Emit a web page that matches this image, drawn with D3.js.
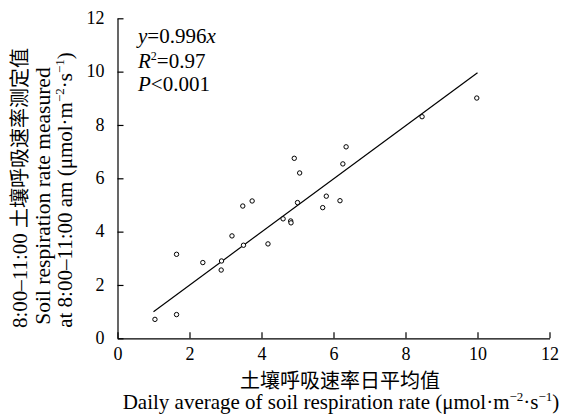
<html>

<head>
  <meta charset="utf-8">
  <title>Soil respiration scatter</title>
  <style>
    body {
      margin: 0;
      background: white;
      font-family: "Liberation Serif", "Times New Roman", serif;
    }
  </style>
</head>

<body>
  <svg id="chart"></svg>

  <script src="https://cdn.jsdelivr.net/npm/d3@7"></script>
  <script>
    // 日平均值 / 8:00-11:00 测定值
    var dailyAvg = [1.04, 1.64, 1.64, 2.37, 2.89, 2.88, 3.18, 3.50, 3.48, 3.74, 4.18, 4.60,
      4.81, 4.82, 4.91, 5.00, 5.06, 5.70, 5.80, 6.18, 6.26, 6.35, 8.46, 9.98];
    var measured = [0.71, 0.89, 3.15, 2.84, 2.90, 2.56, 3.84, 3.49, 4.96, 5.15, 3.54, 4.48,
      4.40, 4.33, 6.75, 5.09, 6.20, 4.90, 5.33, 5.16, 6.54, 7.18, 8.31, 9.01];
    var tickValues = [0, 2, 4, 6, 8, 10, 12];
    var slope = 0.996;
    var fitRange = [1.0, 10.0];

    var width = 562;
    var height = 414;
    var margin = { top: 18.3, left: 117.5, bottom: 75.7, right: 12.5 };

    var svg = d3.select("#chart")
      .attr("width", width)
      .attr("height", height);

    var xScale = d3.scaleLinear()
      .domain([0, 12])
      .range([margin.left, width - margin.right]);
    var yScale = d3.scaleLinear()
      .domain([0, 12])
      .range([height - margin.bottom, margin.top]);

    // 坐标轴，刻度朝内
    var xAxis = d3.axisBottom(xScale).tickValues(tickValues)
      .tickSizeInner(-6).tickSizeOuter(0).tickPadding(9);
    var yAxis = d3.axisLeft(yScale).tickValues(tickValues)
      .tickSizeInner(-6).tickSizeOuter(0).tickPadding(13);

    var gx = svg.append("g")
      .attr("transform", "translate(0," + yScale(0) + ")")
      .call(xAxis);
    var gy = svg.append("g")
      .attr("transform", "translate(" + xScale(0) + ",0)")
      .call(yAxis);

    [gx, gy].forEach(function (g) {
      g.selectAll("path, line").attr("stroke", "black").attr("stroke-width", 1.2);
      g.selectAll("text")
        .attr("font-family", "Liberation Serif, Times New Roman, serif")
        .attr("font-size", 18)
        .attr("fill", "black");
    });
    gy.selectAll("text").attr("dy", "0.28em");

    // 拟合线 y = 0.996x
    svg.append("line")
      .attr("x1", xScale(fitRange[0]))
      .attr("y1", yScale(fitRange[0] * slope))
      .attr("x2", xScale(fitRange[1]))
      .attr("y2", yScale(fitRange[1] * slope))
      .attr("stroke", "black")
      .attr("stroke-width", 1.2);

    // 散点
    svg.append("g")
      .selectAll("circle")
      .data(dailyAvg)
      .join("circle")
      .attr("cx", function (d) { return xScale(d); })
      .attr("cy", function (d, i) { return yScale(measured[i]); })
      .attr("r", 2.2)
      .attr("fill", "white")
      .attr("stroke", "black")
      .attr("stroke-width", 1);

    // 回归方程
    var note = svg.append("g")
      .attr("font-size", 21)
      .attr("fill", "black");
    var t1 = note.append("text").attr("x", 138).attr("y", 43);
    t1.append("tspan").attr("font-style", "italic").text("y");
    t1.append("tspan").text("=0.996");
    t1.append("tspan").attr("font-style", "italic").text("x");

    var t2 = note.append("text").attr("x", 138).attr("y", 67.5);
    t2.append("tspan").attr("font-style", "italic").text("R");
    t2.append("tspan").attr("font-size", 12).attr("dy", -8).text("2");
    t2.append("tspan").attr("dy", 8).text("=0.97");

    var t3 = note.append("text").attr("x", 138).attr("y", 91);
    t3.append("tspan").attr("font-style", "italic").text("P");
    t3.append("tspan").text("<0.001");

    // 单位 μmol·m−2·s−1
    function addUnit(text) {
      text.append("tspan").text("(μmol·m");
      text.append("tspan").attr("font-size", 13).attr("dy", -8).text("−2");
      text.append("tspan").attr("dy", 8).text("·s");
      text.append("tspan").attr("font-size", 13).attr("dy", -8).text("−1");
      text.append("tspan").attr("dy", 8).text(")");
    }

    // x 轴标题
    svg.append("text")
      .attr("x", 340).attr("y", 388)
      .attr("text-anchor", "middle")
      .attr("font-family", "Noto Sans CJK SC")
      .attr("font-size", 20)
      .text("土壤呼吸速率日平均值");
    var xt = svg.append("text")
      .attr("x", 341).attr("y", 409)
      .attr("text-anchor", "middle")
      .attr("font-size", 21);
    xt.append("tspan").text("Daily average of soil respiration rate ");
    addUnit(xt);

    // y 轴标题
    var yl1 = svg.append("text")
      .attr("transform", "translate(27,188) rotate(-90)")
      .attr("text-anchor", "middle")
      .attr("font-size", 21);
    yl1.append("tspan").text("8:00–11:00 ");
    yl1.append("tspan").attr("font-family", "Noto Sans CJK SC").attr("font-size", 20).text("土壤呼吸速率测定值");

    svg.append("text")
      .attr("transform", "translate(50,196) rotate(-90)")
      .attr("text-anchor", "middle")
      .attr("font-size", 21.5)
      .text("Soil respiration rate measured");

    var yl3 = svg.append("text")
      .attr("transform", "translate(72,190) rotate(-90)")
      .attr("text-anchor", "middle")
      .attr("font-size", 21);
    yl3.append("tspan").text("at 8:00–11:00 am ");
    addUnit(yl3);
  </script>
</body>

</html>
